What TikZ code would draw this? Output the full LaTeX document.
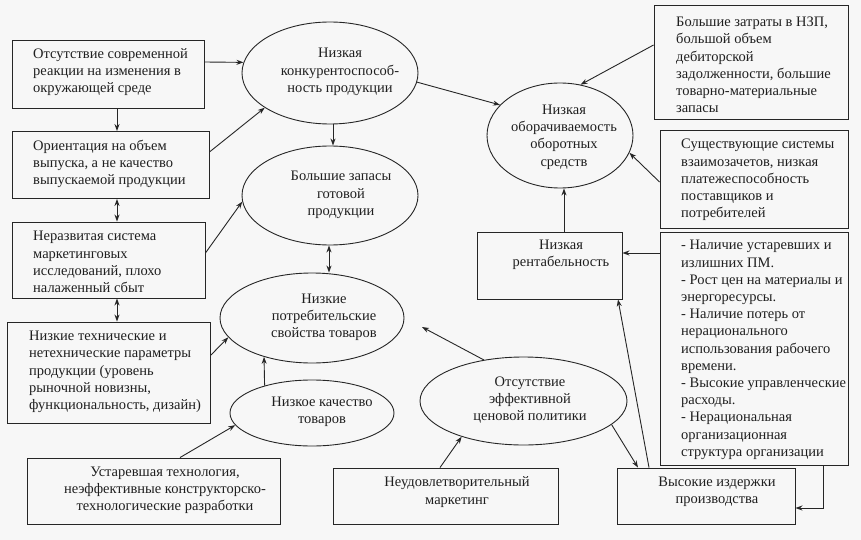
\documentclass[tikz,border=0pt]{standalone}
\usepackage{fontspec}
\setmainfont{Liberation Serif}
\usetikzlibrary{shapes.geometric,arrows.meta}
\begin{document}
\begin{tikzpicture}[x=1pt,y=-1pt,
  ln/.style={draw=black!85,line width=0.9pt},
  boxn/.style={ln,rectangle,inner sep=0pt},
  ell/.style={ln,ellipse,inner sep=0pt},
  txt/.style={inner sep=0pt,text=black!88,font=\fontsize{14.5}{17.2}\selectfont},
  ltxt/.style={txt,anchor=west,align=left},
  ctxt/.style={txt,align=center},
  arr/.style={ln,-{Stealth[length=7pt,width=5pt]}},
  darr/.style={ln,{Stealth[length=7pt,width=5pt]}-{Stealth[length=7pt,width=5pt]}}]
\path[fill=black!3] (0,0) rectangle (861,540);
% boxes
\node[boxn,minimum width=192,minimum height=68] (b1) at (108,74) {};
\node[boxn,minimum width=197,minimum height=67] (b2) at (110.5,165) {};
\node[boxn,minimum width=193,minimum height=76] (b3) at (108.5,260) {};
\node[boxn,minimum width=203,minimum height=101] (b4) at (109,372.5) {};
\node[boxn,minimum width=253,minimum height=66] (b5) at (153.5,491) {};
\node[boxn,minimum width=225,minimum height=56] (b6) at (445.5,496) {};
\node[boxn,minimum width=178,minimum height=56] (b7) at (706,496) {};
\node[boxn,minimum width=188,minimum height=233] (b8) at (754,348.5) {};
\node[boxn,minimum width=145,minimum height=67] (b9) at (549.5,265.5) {};
\node[boxn,minimum width=188,minimum height=98] (b10) at (754,179) {};
\node[boxn,minimum width=194,minimum height=114] (b11) at (751,62) {};
% ellipses
\node[ell,minimum width=176,minimum height=102] (e1) at (330,73) {};
\node[ell,minimum width=176,minimum height=99] (e2) at (330,195.5) {};
\node[ell,minimum width=184,minimum height=90] (e3) at (312,318) {};
\node[ell,minimum width=164,minimum height=66] (e4) at (312,413) {};
\node[ell,minimum width=207,minimum height=88] (e5) at (523.5,401) {};
\node[ell,minimum width=146,minimum height=105] (e6) at (560,135.5) {};
% texts
\node[ltxt] (t1) at (33,72) {Отсутствие современной\\реакции на изменения в\\окружающей среде};
\node[ltxt] (t2) at (33,164) {Ориентация на объем\\выпуска, а не качество\\выпускаемой продукции};
\node[ltxt] (t3) at (33,262) {Неразвитая система\\маркетинговых\\исследований, плохо\\налаженный сбыт};
\node[ltxt] (t4) at (29,372) {Низкие технические и\\нетехнические параметры\\продукции (уровень\\рыночной новизны,\\функциональность, дизайн)};
\node[ctxt] (t5) at (165,490) {Устаревшая технология,\\неэффективные конструкторско-\\технологические разработки};
\node[ctxt] (t6) at (457,492) {Неудовлетворительный\\маркетинг};
\node[ctxt] (t7) at (717,492) {Высокие издержки\\производства};
\node[ltxt] (t8) at (681,350) {- Наличие устаревших и\\излишних ПМ.\\- Рост цен на материалы и\\энергоресурсы.\\- Наличие потерь от\\нерационального\\использования рабочего\\времени.\\- Высокие управленческие\\расходы.\\- Нерациональная\\организационная\\структура организации};
\node[ctxt] (t9) at (561,255) {Низкая\\рентабельность};
\node[ltxt] (t10) at (681,180) {Существующие системы\\взаимозачетов, низкая\\платежеспособность\\поставщиков и\\потребителей};
\node[ltxt] (t11) at (676,65) {Большие затраты в НЗП,\\большой объем\\дебиторской\\задолженности, большие\\товарно-материальные\\запасы};
\node[ctxt] (te1) at (340,72) {Низкая\\конкурентоспособ-\\ность продукции};
\node[ctxt] (te2) at (341,195) {Большие запасы\\готовой\\продукции};
\node[ctxt] (te3) at (324,317) {Низкие\\потребительские\\свойства товаров};
\node[ctxt] (te4) at (322,412) {Низкое качество\\товаров};
\node[ctxt] (te5) at (530,400) {Отсутствие\\эффективной\\ценовой политики};
\node[ctxt] (te6) at (564,137) {Низкая\\оборачиваемость\\оборотных\\средств};
\coordinate (free) at (422,327);
% connectors
\draw[arr] ([yshift=12pt]b1.east) -- (e1.173);
\draw[arr] ([xshift=9pt]b1.south) -- ([xshift=9pt]b1.south |- b2.north);
\draw[darr] ([xshift=6.5pt]b2.south) -- ([xshift=6.5pt]b2.south |- b3.north);
\draw[darr] ([xshift=8.5pt]b3.south) -- ([xshift=8.5pt]b3.south |- b4.north);
\draw[arr] ([yshift=13pt]b2.east) -- (e1.208);
\draw[arr] ([xshift=3pt]e1.south) -- ([xshift=3pt]e2.north);
\draw[arr] (e1.-6) -- (e6.153);
\draw[arr] ([yshift=7pt]b3.east) -- (e2.184);
\draw[darr] ([xshift=-1pt]e2.south) -- ([xshift=-1pt]e2.south |- e3.north);
\draw[arr] ([yshift=17.5pt]b4.east) -- (e3.193);
\draw[arr] (e4.150) -- (e3.219);
\draw[arr] ([xshift=26.5pt]b5.north) -- (e4.189);
\draw[arr] (e5.134) -- (free);
\draw[arr] ([xshift=-5.5pt]b6.north) -- (e5.210);
\draw[arr] (e5.-15) -- ([xshift=-68pt]b7.north);
\draw[arr] ([xshift=-57pt]b7.north) -- ([xshift=68.5pt]b9.south);
\draw[arr] ([yshift=95.5pt]b8.west) -- ([yshift=95.5pt]b8.west -| b9.east);
\draw[arr] ([xshift=69pt]b8.south) |- ([yshift=-12pt]b7.east);
\draw[arr] ([xshift=14.5pt]b9.north) -- ([xshift=14.5pt]b9.north |- e6.south);
\draw[arr] ([yshift=-3pt]b10.west) -- (e6.-14);
\draw[arr] ([yshift=17pt]b11.west) -- (e6.68);
\end{tikzpicture}
\end{document}
